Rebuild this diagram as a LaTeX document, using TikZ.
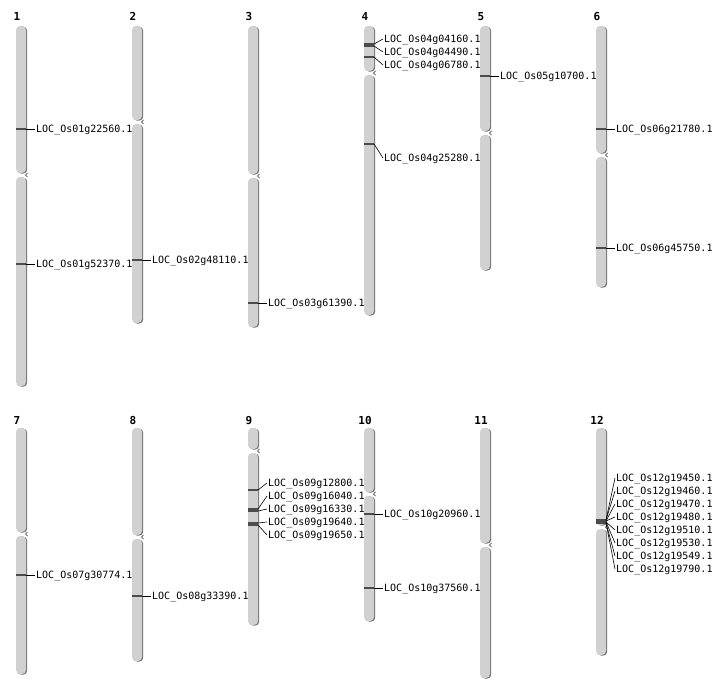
\documentclass[tikz,border=0pt]{standalone}
\usepackage{fontspec}
\setmonofont{DejaVu Sans Mono}
\setsansfont{DejaVu Sans}
\usetikzlibrary{shadows}
\tikzset{
  arm/.style={fill=black!18, rounded corners=4pt,
    drop shadow={shadow xshift=1.2pt, shadow yshift=-0.6pt, fill=black!55, opacity=1}},
  notch/.style={draw=black!55, line width=0.8pt},
  chrno/.style={font=\ttfamily\bfseries\fontsize{11}{11}\selectfont, inner sep=0pt,
    text height=8pt, text depth=0pt},
  locus/.style={draw=black!70, line width=1.3pt},
  gene/.style={font=\ttfamily\fontsize{10}{10}\selectfont, anchor=west, inner sep=1pt,
    text height=7.3pt, text depth=0pt},
  link/.style={draw=black, line width=0.6pt}
}
\begin{document}
\begin{tikzpicture}[x=1pt, y=-1pt]
  \useasboundingbox (0,0) rectangle (712,700);
  \fill[arm] (16,26) rectangle (26,173) (16,177) rectangle (26,386);
  \fill[arm] (132,26) rectangle (142,120) (132,124) rectangle (142,323);
  \fill[arm] (248,26) rectangle (258,174) (248,178) rectangle (258,327);
  \fill[arm] (364,26) rectangle (374,71) (364,75) rectangle (374,315);
  \fill[arm] (480,26) rectangle (490,131) (480,135) rectangle (490,270);
  \fill[arm] (596,26) rectangle (606,153) (596,157) rectangle (606,287);
  \fill[arm] (16,428) rectangle (26,532) (16,536) rectangle (26,674);
  \fill[arm] (132,428) rectangle (142,535) (132,539) rectangle (142,661);
  \fill[arm] (248,428) rectangle (258,449) (248,453) rectangle (258,625);
  \fill[arm] (364,428) rectangle (374,492) (364,496) rectangle (374,621);
  \fill[arm] (480,428) rectangle (490,543) (480,547) rectangle (490,678);
  \fill[arm] (596,428) rectangle (606,525) (596,529) rectangle (606,655);
  \begin{scope}[notch]
    \draw (27.5,173) -- (25.5,175) -- (27.5,177);
    \draw (143.5,120) -- (141.5,122) -- (143.5,124);
    \draw (259.5,174) -- (257.5,176) -- (259.5,178);
    \draw (375.5,71) -- (373.5,73) -- (375.5,75);
    \draw (491.5,131) -- (489.5,133) -- (491.5,135);
    \draw (607.5,153) -- (605.5,155) -- (607.5,157);
    \draw (27.5,532) -- (25.5,534) -- (27.5,536);
    \draw (143.5,535) -- (141.5,537) -- (143.5,539);
    \draw (259.5,449) -- (257.5,451) -- (259.5,453);
    \draw (375.5,492) -- (373.5,494) -- (375.5,496);
    \draw (491.5,543) -- (489.5,545) -- (491.5,547);
    \draw (607.5,525) -- (605.5,527) -- (607.5,529);
  \end{scope}
  \node[chrno] (c1) at (17,17) {1};
  \node[chrno] (c2) at (133,17) {2};
  \node[chrno] (c3) at (249,17) {3};
  \node[chrno] (c4) at (365,17) {4};
  \node[chrno] (c5) at (481,17) {5};
  \node[chrno] (c6) at (597,17) {6};
  \node[chrno] (c7) at (17,420) {7};
  \node[chrno] (c8) at (133,420) {8};
  \node[chrno] (c9) at (249,420) {9};
  \node[chrno] (c10) at (365,420) {10};
  \node[chrno] (c11) at (481,420) {11};
  \node[chrno] (c12) at (597,420) {12};
  \begin{scope}[locus]
    \draw (16,129) -- (26,129) coordinate (m1a);
    \draw (16,264) -- (26,264) coordinate (m1b);
    \draw (132,260) -- (142,260) coordinate (m2a);
    \draw (248,303) -- (258,303) coordinate (m3a);
    \draw (364,44) -- (374,44) coordinate (m4a);
    \draw (364,46) -- (374,46) coordinate (m4b);
    \draw (364,57) -- (374,57) coordinate (m4c);
    \draw (364,144) -- (374,144) coordinate (m4d);
    \draw (480,76) -- (490,76) coordinate (m5a);
    \draw (596,129) -- (606,129) coordinate (m6a);
    \draw (596,248) -- (606,248) coordinate (m6b);
    \draw (16,575) -- (26,575) coordinate (m7a);
    \draw (132,596) -- (142,596) coordinate (m8a);
    \draw (248,490) -- (258,490) coordinate (m9a);
    \draw (248,509) -- (258,509) coordinate (m9b);
    \draw (248,511) -- (258,511) coordinate (m9c);
    \draw (248,523) -- (258,523) coordinate (m9d);
    \draw (248,525) -- (258,525) coordinate (m9e);
    \draw (364,514) -- (374,514) coordinate (m10a);
    \draw (364,588) -- (374,588) coordinate (m10b);
    \draw (596,520) -- (606,520) coordinate (m12a);
    \draw (596,520) -- (606,520) coordinate (m12b);
    \draw (596,521) -- (606,521) coordinate (m12c);
    \draw (596,521) -- (606,521) coordinate (m12d);
    \draw (596,522) -- (606,522) coordinate (m12e);
    \draw (596,522) -- (606,522) coordinate (m12f);
    \draw (596,523) -- (606,523) coordinate (m12g);
    \draw (596,523) -- (606,523) coordinate (m12h);
  \end{scope}
  \node[gene] (g1a) at (35,129) {LOC\_Os01g22560.1};
  \node[gene] (g1b) at (35,264) {LOC\_Os01g52370.1};
  \node[gene] (g2a) at (151,260) {LOC\_Os02g48110.1};
  \node[gene] (g3a) at (267,303) {LOC\_Os03g61390.1};
  \node[gene] (g4a) at (383,39) {LOC\_Os04g04160.1};
  \node[gene] (g4b) at (383,52) {LOC\_Os04g04490.1};
  \node[gene] (g4c) at (383,65) {LOC\_Os04g06780.1};
  \node[gene] (g4d) at (383,158) {LOC\_Os04g25280.1};
  \node[gene] (g5a) at (499,76) {LOC\_Os05g10700.1};
  \node[gene] (g6a) at (615,129) {LOC\_Os06g21780.1};
  \node[gene] (g6b) at (615,248) {LOC\_Os06g45750.1};
  \node[gene] (g7a) at (35,575) {LOC\_Os07g30774.1};
  \node[gene] (g8a) at (151,596) {LOC\_Os08g33390.1};
  \node[gene] (g9a) at (267,483) {LOC\_Os09g12800.1};
  \node[gene] (g9b) at (267,496) {LOC\_Os09g16040.1};
  \node[gene] (g9c) at (267,509) {LOC\_Os09g16330.1};
  \node[gene] (g9d) at (267,522) {LOC\_Os09g19640.1};
  \node[gene] (g9e) at (267,535) {LOC\_Os09g19650.1};
  \node[gene] (g10a) at (383,514) {LOC\_Os10g20960.1};
  \node[gene] (g10b) at (383,588) {LOC\_Os10g37560.1};
  \node[gene] (g12a) at (615,478) {LOC\_Os12g19450.1};
  \node[gene] (g12b) at (615,491) {LOC\_Os12g19460.1};
  \node[gene] (g12c) at (615,504) {LOC\_Os12g19470.1};
  \node[gene] (g12d) at (615,517) {LOC\_Os12g19480.1};
  \node[gene] (g12e) at (615,530) {LOC\_Os12g19510.1};
  \node[gene] (g12f) at (615,543) {LOC\_Os12g19530.1};
  \node[gene] (g12g) at (615,556) {LOC\_Os12g19549.1};
  \node[gene] (g12h) at (615,569) {LOC\_Os12g19790.1};
  \begin{scope}[link]
    \draw (m1a) -- (g1a.west);
    \draw (m1b) -- (g1b.west);
    \draw (m2a) -- (g2a.west);
    \draw (m3a) -- (g3a.west);
    \draw (m4a) -- (g4a.west);
    \draw (m4b) -- (g4b.west);
    \draw (m4c) -- (g4c.west);
    \draw (m4d) -- (g4d.west);
    \draw (m5a) -- (g5a.west);
    \draw (m6a) -- (g6a.west);
    \draw (m6b) -- (g6b.west);
    \draw (m7a) -- (g7a.west);
    \draw (m8a) -- (g8a.west);
    \draw (m9a) -- (g9a.west);
    \draw (m9b) -- (g9b.west);
    \draw (m9c) -- (g9c.west);
    \draw (m9d) -- (g9d.west);
    \draw (m9e) -- (g9e.west);
    \draw (m10a) -- (g10a.west);
    \draw (m10b) -- (g10b.west);
    \draw (m12a) -- (g12a.west);
    \draw (m12b) -- (g12b.west);
    \draw (m12c) -- (g12c.west);
    \draw (m12d) -- (g12d.west);
    \draw (m12e) -- (g12e.west);
    \draw (m12f) -- (g12f.west);
    \draw (m12g) -- (g12g.west);
    \draw (m12h) -- (g12h.west);
  \end{scope}
\end{tikzpicture}
\end{document}
